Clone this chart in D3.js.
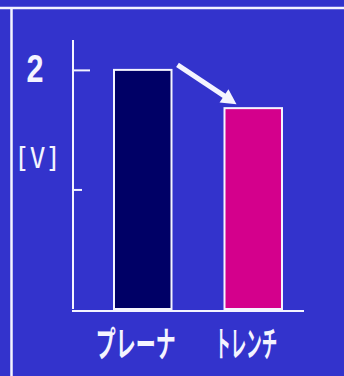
<!DOCTYPE html>
<html>
<head>
<meta charset="utf-8">
<script src="https://cdn.jsdelivr.net/npm/d3@7"></script>
<style>
  html, body { margin: 0; padding: 0; background: #3333cc; }
  svg { display: block; }
</style>
</head>
<body>
<svg id="chart" width="344" height="376"></svg>
<script>
// Chart data
const categories = ["プレーナ", "トレンチ"];
const values = [2.0, 1.68];
const majorTicks = [2];
const minorTicks = [1];
const tickLabels = ["2"];
const unitLabel = "[V]";

const colors = ["#000066", "#d4008c"];
const bg = "#3333cc";
const ink = "#f4f4ff";

const svg = d3.select("#chart");
svg.append("rect").attr("width", 344).attr("height", 376).attr("fill", bg);

// Squeeze a text horizontally to a given width, centred on cx
function fitText(sel, cx, baseline, width) {
  sel.attr("text-anchor", "middle").attr("x", 0).attr("y", 0);
  const w = sel.node().getComputedTextLength();
  sel.attr("transform", `translate(${cx},${baseline}) scale(${width / w},1)`);
}

// Frame lines
svg.append("line").attr("x1", 0).attr("x2", 344).attr("y1", 8).attr("y2", 8)
  .attr("stroke", ink).attr("stroke-width", 2.5);
svg.append("line").attr("x1", 11.5).attr("x2", 11.5).attr("y1", 8).attr("y2", 376)
  .attr("stroke", ink).attr("stroke-width", 2.5);

const y = d3.scaleLinear().domain([0, 2.25]).range([309, 40]);
const x = d3.scaleBand().domain(categories).range([114, 282]).paddingInner(0.4796);

const axisX = 73;

// Vertical axis line
svg.append("line").attr("x1", axisX).attr("x2", axisX)
  .attr("y1", y(2.25)).attr("y2", y(0))
  .attr("stroke", ink).attr("stroke-width", 2);

// Major and minor ticks pointing into the plot
const major = svg.append("g").attr("transform", `translate(${axisX},0)`)
  .call(d3.axisRight(y).tickValues(majorTicks).tickSize(17).tickFormat(""));
const minor = svg.append("g").attr("transform", `translate(${axisX},0)`)
  .call(d3.axisRight(y).tickValues(minorTicks).tickSize(9).tickFormat(""));
[major, minor].forEach(g => {
  g.select(".domain").remove();
  g.selectAll(".tick line").attr("stroke", ink).attr("stroke-width", 2);
});

// Tick labels
majorTicks.forEach((v, i) => {
  const t = svg.append("text")
    .attr("font-family", "Liberation Sans, Arial, sans-serif")
    .attr("font-weight", "bold").attr("font-size", 38)
    .attr("fill", ink)
    .text(tickLabels[i]);
  fitText(t, 35, y(v) + 12, 17);
});

// Unit label
const unit = svg.append("text")
  .attr("font-family", "DejaVu Sans Mono, monospace")
  .attr("font-size", 29)
  .attr("fill", ink)
  .text(unitLabel);
fitText(unit, 37.5, 168, 47);

// Bars
svg.selectAll("rect.bar").data(values).enter().append("rect")
  .attr("class", "bar")
  .attr("x", (d, i) => x(categories[i]))
  .attr("y", d => y(d))
  .attr("width", x.bandwidth())
  .attr("height", d => y(0) - y(d))
  .attr("fill", (d, i) => colors[i])
  .attr("stroke", ink).attr("stroke-width", 2);

// Baseline
svg.append("line").attr("x1", axisX - 1).attr("x2", 304)
  .attr("y1", y(0) + 2).attr("y2", y(0) + 2)
  .attr("stroke", ink).attr("stroke-width", 2);

// Category labels
const labelWidths = [80, 62];
categories.forEach((c, i) => {
  const t = svg.append("text")
    .attr("font-family", "Noto Sans CJK JP, sans-serif")
    .attr("font-weight", "bold").attr("font-size", 35)
    .attr("fill", ink)
    .text(c);
  fitText(t, x(c) + x.bandwidth() / 2 - 7, 357, labelWidths[i]);
});

// Arrow showing the drop from the first bar to the second
const x0 = x(categories[0]) + x.bandwidth() + 6, y0 = y(values[0]) - 5;
const x1 = x(categories[1]) + 12, y1 = y(values[1]) - 4;
const ang = Math.atan2(y1 - y0, x1 - x0);
const headLen = 15, headHalf = 8;
const bx = x1 - headLen * Math.cos(ang), by = y1 - headLen * Math.sin(ang);
svg.append("line")
  .attr("x1", x0).attr("y1", y0)
  .attr("x2", bx + 2 * Math.cos(ang)).attr("y2", by + 2 * Math.sin(ang))
  .attr("stroke", ink).attr("stroke-width", 5);
svg.append("path")
  .attr("d", d3.line()([
    [x1, y1],
    [bx + headHalf * Math.sin(ang), by - headHalf * Math.cos(ang)],
    [bx - headHalf * Math.sin(ang), by + headHalf * Math.cos(ang)]
  ]) + "Z")
  .attr("fill", ink);
</script>
</body>
</html>
